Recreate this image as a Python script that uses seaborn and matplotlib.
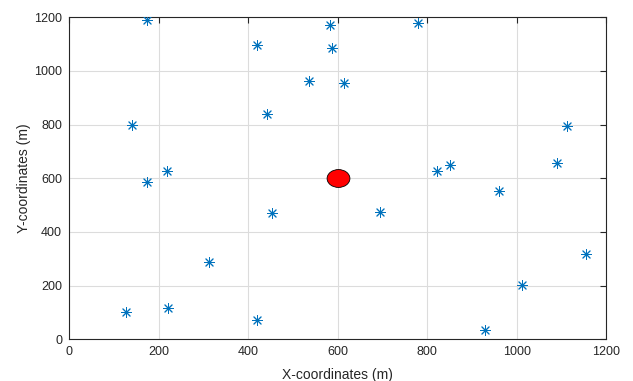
import numpy as np
import pandas as pd
import seaborn as sns
import matplotlib.pyplot as plt
from matplotlib.path import Path
from matplotlib.transforms import Affine2D

# node positions (m)
node_x = [174, 420, 584, 587, 779, 535, 615, 442, 141, 175, 218,
          823, 852, 960, 1091, 1113, 453, 312, 220, 128, 421,
          695, 1154, 1012, 930]
node_y = [1190, 1096, 1171, 1085, 1178, 963, 955, 841, 800, 586, 627,
          627, 650, 553, 657, 794, 471, 288, 117, 102, 72,
          474, 317, 202, 35]

# base station in the middle of the field
sink_x = [600]
sink_y = [600]

x_ticks = [0, 200, 400, 600, 800, 1000, 1200]
y_ticks = [0, 200, 400, 600, 800, 1000, 1200]

sns.set_style("white")
plt.rcParams['font.family'] = ['Liberation Sans', 'DejaVu Sans']

nodes = pd.DataFrame({'x': node_x, 'y': node_y})
sink = pd.DataFrame({'x': sink_x, 'y': sink_y})

fig = plt.figure(figsize=(6.33, 3.81), dpi=100)
ax = fig.add_axes([0.109, 0.1094, 0.8488, 0.8451])

# matlab-like asterisk for the nodes
sns.scatterplot(data=nodes, x='x', y='y', ax=ax, marker=(8, 2, 0),
                s=52, color='#0072BD', edgecolor='#0072BD', linewidth=0.7,
                zorder=3)

# slightly wide ellipse for the sink
ellipse = Path.unit_circle().transformed(Affine2D().scale(1.28, 1.0))
sns.scatterplot(data=sink, x='x', y='y', ax=ax, marker=ellipse,
                s=270, color='red', edgecolor='black', linewidth=0.6,
                zorder=4)

# styling
ax.set_xlim(0, 1200)
ax.set_ylim(0, 1200)
ax.set_xticks(x_ticks)
ax.set_yticks(y_ticks)
ax.grid(True, color='#dcdcdc', linewidth=0.8)
ax.set_axisbelow(True)
ax.tick_params(direction='in', length=4, width=0.8, top=True, right=True,
               labelsize=9, colors='#262626', pad=5)
for s in ax.spines.values():
    s.set_color('#262626')
    s.set_linewidth(0.8)
ax.set_xlabel('X-coordinates (m)', fontsize=10, color='#262626', labelpad=7)
ax.set_ylabel('Y-coordinates (m)', fontsize=10, color='#262626', labelpad=2)

fig.savefig('out.png', dpi=100)
